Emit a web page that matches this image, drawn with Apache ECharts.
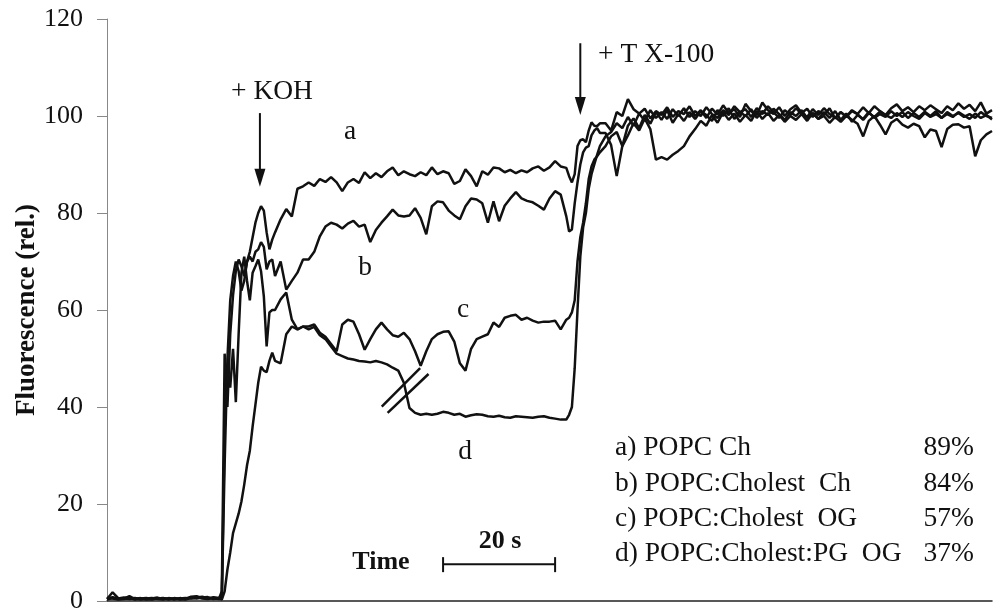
<!DOCTYPE html>
<html>
<head>
<meta charset="utf-8">
<script src="https://cdn.jsdelivr.net/npm/echarts@6/dist/echarts.min.js"></script>
<style>
  html, body { margin: 0; padding: 0; background: #fff; }
  #chart { width: 1000px; height: 615px; }
</style>
</head>
<body>
<div id="chart"></div>
<script>
// Sampling times (s): baseline, KOH addition (0.5 s), leakage phase, Triton addition (0.5 s), solubilised phase
const time = [
  0, 1, 2, 3, 4, 5, 6, 7, 8, 9, 10, 11, 12, 13, 14, 15, 16, 17, 18, 19, 20,
  20.5, 21, 21.5, 22, 22.5, 23, 23.5, 24, 24.5, 25, 25.5, 26, 26.5, 27, 27.5, 28, 28.5, 29, 29.5, 30,
  31, 32, 33, 34, 35, 36, 37, 38, 39, 40, 41, 42, 43, 44, 45, 46, 47, 48, 49, 50,
  51, 52, 53, 54, 55, 56, 57, 58, 59, 60, 61, 62, 63, 64, 65, 66, 67, 68, 69, 70,
  71, 72, 73, 74, 75, 76, 77, 78, 79, 80, 81, 82,
  82.5, 83, 83.5, 84, 84.5, 85, 85.5, 86, 86.5, 87, 87.5, 88,
  89, 90, 91, 92, 93, 94, 95, 96, 97, 98, 99, 100, 101, 102, 103, 104, 105, 106, 107, 108,
  109, 110, 111, 112, 113, 114, 115, 116, 117, 118, 119, 120, 121, 122, 123, 124, 125, 126, 127, 128,
  129, 130, 131, 132, 133, 134, 135, 136, 137, 138, 139, 140, 141, 142, 143, 144, 145, 146, 147, 148,
  149, 150, 151, 152, 153, 154, 155, 156, 157, 158
];

// a) POPC Ch
const curveA = [
  0.4, 1.8, 0.6, 0.5, 1.0, 0.4, 0.6, 0.3, 0.5, 0.7, 0.4, 0.5, 0.3, 0.6, 0.4, 0.9, 1.0, 0.6, 0.5, 0.8, 0.6,
  1, 28, 50, 62, 67, 70, 68, 64, 66, 70, 72, 75, 78, 80, 81.4, 80.5, 76, 72.5, 74.5, 76,
  78.7, 80.8, 79.3, 85, 85.5, 86.3, 85.6, 87, 86.4, 87.4, 86.3, 84.5, 86.3, 87, 86.2, 88.4, 87.2, 88.2, 87.4, 88.6,
  89.4, 87.8, 88.6, 88, 87.6, 88.4, 87.8, 89.4, 88, 88.6, 88.2, 86, 86.6, 89, 87.6, 85.5, 88.6, 87.9, 89.4, 89.2,
  88.4, 88.9, 88.2, 88.8, 88.4, 89.2, 89.6, 88.7, 89.4, 90.7, 89.6, 89.3,
  87.6, 86.3, 88, 93.8, 95, 95.2, 94.6, 97, 98.7, 98, 97.9, 98.5,
  98.5, 97, 100.8, 100, 103.5, 101.4, 100.5, 101.5, 99.5, 101, 100.2, 101.8, 99.8, 101, 100.4, 102, 100, 101.2, 99.6, 101.5,
  100.3, 102.2, 100.6, 101.4, 99.8, 102.5, 101, 100.2, 102.8, 101.2, 100.4, 101.8, 100, 101.4, 102.2, 100.6, 101.5, 99.8, 101, 100.2,
  101.6, 99.5, 100.8, 99.9, 101.2, 100.4, 101.8, 100.6, 102, 101, 100.2, 101.6, 102.4, 101, 101.8, 100.8, 102, 101.2, 102.2, 101.4,
  100.6, 102, 101.2, 102.6, 101.5, 102.3, 101, 102.8, 100.5, 101.2
];

// b) POPC:Cholest Ch
const curveB = [
  0.5, 0.8, 0.5, 0.7, 0.6, 0.3, 0.5, 0.6, 0.4, 0.5, 0.6, 0.4, 0.5, 0.3, 0.5, 0.7, 0.8, 0.5, 0.4, 0.6, 0.5,
  2, 51, 40, 55, 63, 68, 70.4, 69, 67, 70, 71, 70, 72, 72.5, 74, 73, 68.4, 70, 70.4, 67,
  70, 64.2, 66, 67.7, 70.4, 70.4, 72, 75.2, 77.2, 78, 77.6, 76.8, 77.8, 78.4, 77.2, 77.6, 74, 76.5, 78, 79.3,
  80.7, 79.5, 79.3, 79.5, 81, 79, 75.6, 81.4, 82.4, 82.2, 80.5, 79.5, 78.7, 81.4, 83, 82.8, 82, 78, 82.4, 78.3,
  81.5, 83, 84.3, 83, 82.5, 82.2, 81.5, 80.7, 83, 84.5, 83.8, 79.3,
  76.2, 76.6, 82, 86.3, 90, 92.5, 93.5, 93.8, 96, 97, 97.5, 96.5,
  96.5, 94, 87.6, 93.8, 98, 99.5, 97.5, 100.2, 98.4, 100.8, 99.2, 101.2, 98.6, 100.4, 99, 100.8, 99.4, 101, 100.2, 99,
  101.2, 100, 101.6, 99.4, 100.8, 100, 101.4, 99.6, 101, 100.2, 101.5, 100.4, 99.2, 100.8, 100, 101.2, 99.6, 100.6, 99.4, 100.8,
  99.6, 101, 99.2, 100.5, 98.8, 100.2, 99.4, 100.8, 99.6, 100.4, 99.8, 101, 100, 100.8, 99.6, 100.6, 99.8, 100.9, 100, 101,
  99.6, 100.4, 99.8, 100.8, 100.1, 99.4, 100.5, 99.6, 100.2, 99.3
];

// c) POPC:Cholest OG
const curveC = [
  0.3, 0.6, 0.4, 0.5, 0.4, 0.5, 0.3, 0.5, 0.6, 0.4, 0.3, 0.6, 0.4, 0.5, 0.6, 0.5, 0.7, 0.9, 0.6, 0.5, 0.4,
  0.5, 35, 48, 44, 52, 41, 55, 67.7, 71, 66, 62, 67.7, 69, 70.4, 68, 62.8, 52.5, 59.5, 60, 60,
  62.2, 63.6, 58, 56, 56.6, 56.6, 57, 55.3, 54.5, 53, 51.5, 57, 58, 57.6, 55, 51.8, 54, 56, 57.4, 56,
  54.8, 54.5, 55.3, 54, 51.5, 48.5, 51.5, 54, 55, 55.5, 55.6, 53.5, 49, 47.5, 52, 54, 54.5, 55, 57.4, 56.5,
  58.4, 58.8, 59, 58, 58.4, 57.8, 57.4, 57.6, 57.6, 57.8, 56, 58,
  58.4, 59.5, 62, 70, 75, 78, 82, 87, 89.6, 91, 91.7, 92.5,
  93.8, 95.8, 96.7, 93.8, 96, 98.5, 97, 99.5, 97.3, 91, 91.5, 91, 92, 92.8, 93.8, 95.8, 97.3, 99, 98, 100.2,
  98.6, 100.8, 99.2, 100.5, 98.8, 100.2, 99, 101, 99.4, 100.6, 99, 100.2, 98.8, 100, 99.2, 100.4, 99, 100.6, 99.4, 100,
  98.6, 99.8, 98.8, 100, 99.2, 98.4, 95.8, 99, 100, 98.2, 96.2, 98.6, 99.4, 98.2, 97.6, 98.4, 97.9, 95.6, 97.2, 96.9,
  93.6, 97.3, 98.2, 98.3, 97.6, 97.9, 91.7, 95, 96.2, 96.9
];

// d) POPC:Cholest:PG OG
const curveD = [
  0.6, 0.5, 0.3, 0.4, 0.5, 0.6, 0.4, 0.4, 0.3, 0.5, 0.5, 0.3, 0.6, 0.4, 0.3, 0.6, 0.5, 0.7, 0.8, 0.4, 0.6,
  0.3, 2, 6.5, 10, 14, 16, 18, 20.5, 24, 28, 31, 36, 40.5, 45, 48.3, 47.5, 47.2, 49.5, 51.2, 49.5,
  49, 55, 56.6, 56, 56.6, 56, 56.5, 54.8, 54, 52.5, 51, 50.5, 50, 49.8, 49.5, 49.4, 49.2, 49.5, 49.2, 48.8,
  48.1, 47.5, 45, 39.8, 38.8, 38.4, 38.6, 38.4, 38.6, 39, 38.8, 38.4, 38.6, 38, 38.3, 38.5, 38.4, 38.1, 38, 38.2,
  37.9, 37.8, 38.1, 38, 37.9, 37.8, 38, 38.1, 37.8, 37.6, 37.4, 37.4,
  38.4, 40, 48, 60, 71, 77, 80, 85, 88, 90, 92, 93.8,
  95.8, 96.7, 98.5, 97.5, 99.8, 98, 100.5, 99, 101.2, 99.6, 100.8, 99.4, 101.4, 100, 101.6, 99.8, 101, 100, 101.8, 100.4,
  99.6, 101.2, 100.2, 102, 100.8, 101.4, 99.8, 101.6, 100.4, 102, 100.8, 99.6, 101.2, 100.2, 101.6, 100.4, 99.8, 101.4, 100.2, 101.6,
  100.4, 99.6, 100.8, 99.8, 101, 100.4, 99.2, 100.6, 99.8, 100.9, 100.2, 99.6, 100.6, 99.8, 100.8, 100, 99.4, 100.6, 99.8, 100.4,
  99.6, 100.8, 100, 100.6, 99.8, 100.4, 99.6, 100.8, 100, 99.6
];

const seriesNames = ['a', 'b', 'c', 'd'];
const seriesValues = [curveA, curveB, curveC, curveD];

const legendRows = [
  ['a) POPC Ch', '89%'],
  ['b) POPC:Cholest  Ch', '84%'],
  ['c) POPC:Cholest  OG', '57%'],
  ['d) POPC:Cholest:PG  OG', '37%']
];

const yTicks = { min: 0, max: 120, interval: 20 };
const timeRange = { min: 0, max: 158 };

// Annotation anchors in data units (s, rel.)
const kohArrow = { t: 27.3, from: 100.6, to: 85.4 };
const tritonArrow = { t: 84.5, from: 115.0, to: 100.2 };
const scaleBar = { from: 60, to: 80, level: 7.6 };
const breakMarks = [
  [[49.05, 40.1], [55.9, 48.0]],
  [[50.1, 38.8], [57.4, 46.8]]
];

const SERIF = '"Liberation Serif", "Times New Roman", serif';
const INK = '#111';
const TEXT_SIZE = 27.5;

const chart = echarts.init(document.getElementById('chart'), null, { renderer: 'canvas' });

chart.setOption({
  animation: false,
  backgroundColor: '#fff',
  grid: { left: 107, right: 8, top: 19, bottom: 14, containLabel: false },
  xAxis: {
    type: 'value',
    min: timeRange.min,
    max: timeRange.max,
    axisLine: { show: true, onZero: false, lineStyle: { color: '#222', width: 1.5 } },
    axisTick: { show: false },
    axisLabel: { show: false },
    splitLine: { show: false }
  },
  yAxis: {
    type: 'value',
    min: yTicks.min,
    max: yTicks.max,
    interval: yTicks.interval,
    name: 'Fluorescence (rel.)',
    nameLocation: 'middle',
    nameGap: 66,
    nameMoveOverlap: false,
    nameTextStyle: { fontFamily: SERIF, fontSize: 27, fontWeight: 'bold', color: INK },
    axisLine: { show: true, lineStyle: { color: '#888', width: 1 } },
    axisTick: { show: true, length: 10, lineStyle: { color: '#888', width: 1 } },
    axisLabel: { fontFamily: SERIF, fontSize: 26, color: INK, margin: 24 },
    splitLine: { show: false }
  },
  series: seriesValues.map((vals, k) => ({
    name: seriesNames[k],
    type: 'line',
    data: time.map((t, i) => [t, vals[i]]),
    showSymbol: false,
    symbol: 'none',
    lineStyle: { color: INK, width: 2.5 },
    z: 2
  }))
});

// Overlay: arrows, scale bar, break marks and labels
function px(t, v) { return chart.convertToPixel({ gridIndex: 0 }, [t, v]); }

function arrow(spec) {
  const top = px(spec.t, spec.from);
  const tip = px(spec.t, spec.to);
  const headLen = 18, headHalf = 5.5;
  return [
    { type: 'line', z: 10, shape: { x1: top[0], y1: top[1], x2: tip[0], y2: tip[1] - headLen + 2 },
      style: { stroke: INK, lineWidth: 2 } },
    { type: 'polygon', z: 10, shape: { points: [[tip[0], tip[1]], [tip[0] - headHalf, tip[1] - headLen], [tip[0] + headHalf, tip[1] - headLen]] },
      style: { fill: INK } }
  ];
}

function label(text, x, y, opts) {
  opts = opts || {};
  const font = (opts.bold ? 'bold ' : '') + (opts.size || TEXT_SIZE) + 'px ' + SERIF;
  return {
    type: 'text', z: 10, x: x, y: y,
    style: {
      text: text, font: font, fill: INK,
      align: opts.align || 'left', verticalAlign: 'middle',
      textAlign: opts.align || 'left', textVerticalAlign: 'middle'
    }
  };
}

const g = [];
g.push(...arrow(kohArrow));
g.push(...arrow(tritonArrow));

const s0 = px(scaleBar.from, scaleBar.level);
const s1 = px(scaleBar.to, scaleBar.level);
g.push({ type: 'line', z: 10, shape: { x1: s0[0], y1: s0[1], x2: s1[0], y2: s1[1] }, style: { stroke: INK, lineWidth: 2 } });
g.push({ type: 'line', z: 10, shape: { x1: s0[0], y1: s0[1] - 7, x2: s0[0], y2: s0[1] + 8 }, style: { stroke: INK, lineWidth: 2 } });
g.push({ type: 'line', z: 10, shape: { x1: s1[0], y1: s1[1] - 7, x2: s1[0], y2: s1[1] + 8 }, style: { stroke: INK, lineWidth: 2 } });

breakMarks.forEach(function (m) {
  const p0 = px(m[0][0], m[0][1]);
  const p1 = px(m[1][0], m[1][1]);
  g.push({ type: 'line', z: 10, shape: { x1: p0[0], y1: p0[1], x2: p1[0], y2: p1[1] }, style: { stroke: INK, lineWidth: 2.5 } });
});

g.push(label('+ KOH', 272, 92, { align: 'center' }));
g.push(label('+ T X-100', 598, 55));
g.push(label('a', 350, 132, { align: 'center' }));
g.push(label('b', 365, 268, { align: 'center' }));
g.push(label('c', 463, 310, { align: 'center' }));
g.push(label('d', 465, 452, { align: 'center' }));
g.push(label('Time', 381, 562, { align: 'center', bold: true, size: 26 }));
g.push(label('20 s', 500, 541, { align: 'center', bold: true, size: 26 }));

const rowY = [448, 483.5, 519, 554];
legendRows.forEach(function (row, i) {
  g.push(label(row[0], 615, rowY[i]));
  g.push(label(row[1], 974, rowY[i], { align: 'right' }));
});

chart.setOption({ graphic: g });
</script>
</body>
</html>
